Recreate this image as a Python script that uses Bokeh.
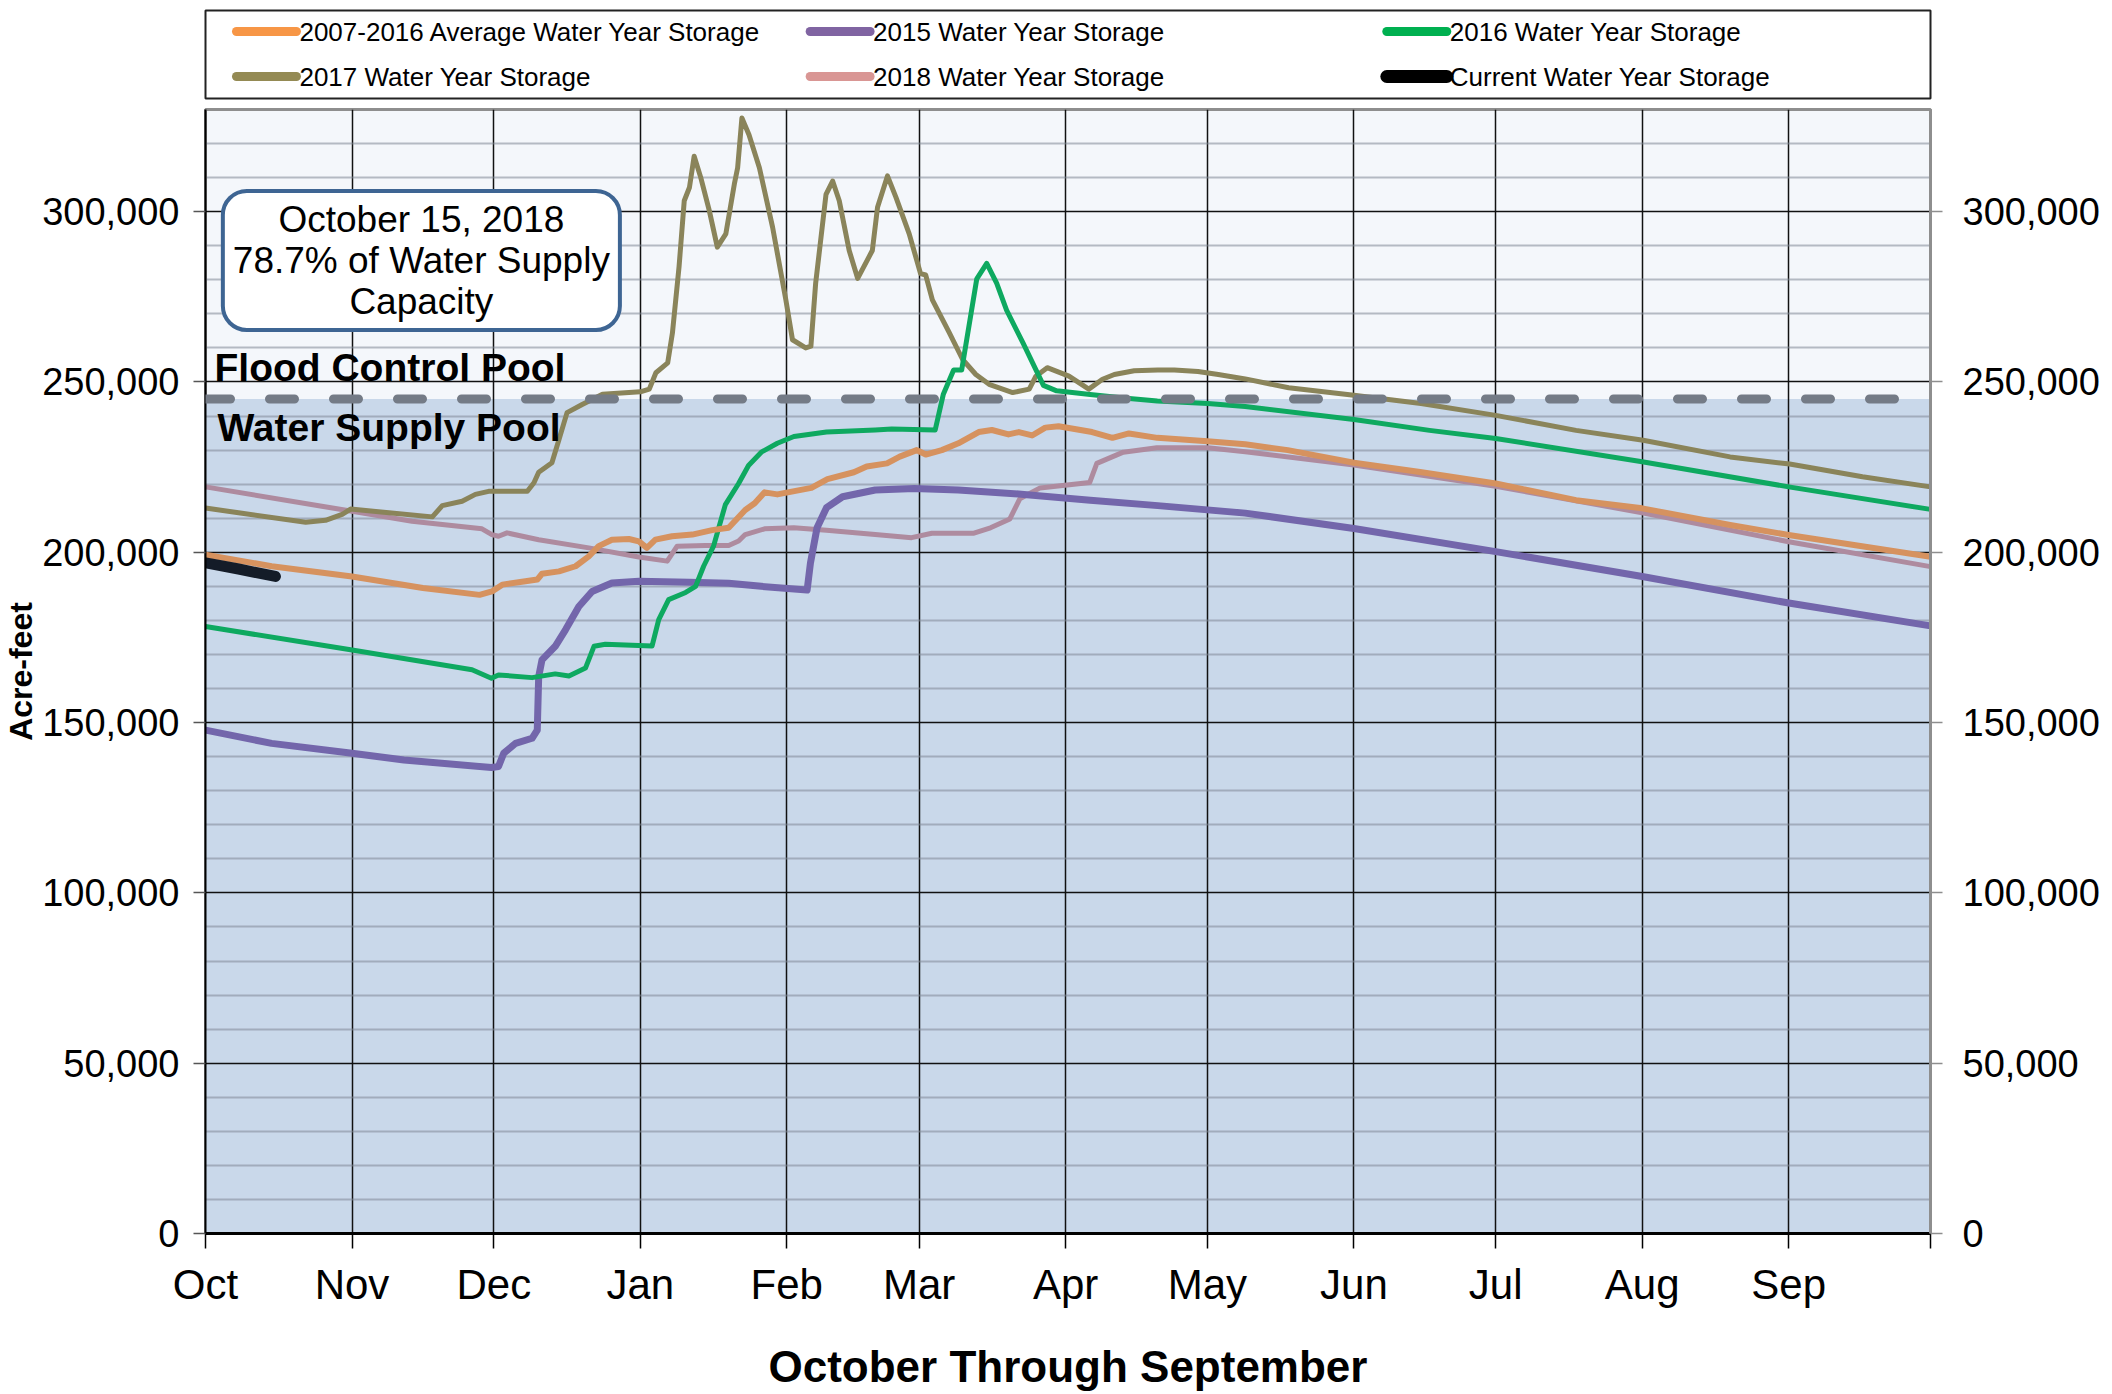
from bokeh.plotting import figure
from bokeh.models import (Range1d, FixedTicker, NumeralTickFormatter, LinearAxis,
                          BoxAnnotation, Span, Label)
from bokeh.layouts import column
from bokeh.embed import file_html
from bokeh.resources import INLINE
from bokeh.core.properties import value

# ---------------- data ----------------
MONTHS = ["Oct", "Nov", "Dec", "Jan", "Feb", "Mar", "Apr", "May", "Jun", "Jul", "Aug", "Sep"]
MONTH_STARTS = [0, 31, 61, 92, 123, 151, 182, 212, 243, 273, 304, 335, 365]  # day of water year
Y_TICKS = [0, 50000, 100000, 150000, 200000, 250000, 300000]
Y_MAX = 330000
WATER_SUPPLY_TOP = 245000

AVG_DAY = [0, 14, 31, 46, 58, 60.6, 62.8, 67.7, 70.2, 71.2, 74.8, 78.3, 81.1, 83.2, 86, 89.6,
           91.7, 93.4, 95.2, 98.7, 103, 107.2, 110.7, 114.2, 116.2, 118.3, 121, 128.2, 131.6,
           137.2, 139.9, 144.2, 146.9, 150.5, 152.4, 155.8, 159.3, 163.6, 166.4, 169.9, 172.1,
           174.9, 177.7, 180.5, 187.6, 191.9, 195.4, 201.4, 212, 220, 229, 243, 257, 273, 290,
           304, 322.6, 335, 365]
AVG_VAL = [199300, 195900, 192900, 189500, 187500, 188500, 190500, 191500, 192000, 193700,
           194400, 195900, 198800, 201800, 203700, 203900, 203200, 201300, 203700, 204700,
           205200, 206500, 207200, 212400, 214400, 217600, 217000, 218900, 221500, 223500,
           225200, 226100, 228100, 230000, 228700, 230000, 232000, 235300, 235900, 234600,
           235300, 234300, 236600, 237000, 235300, 233600, 234900, 233600, 232600, 231700,
           230000, 226300, 223600, 220200, 215300, 212900, 208000, 205100, 198700]

Y2015_DAY = [0, 14, 31, 42, 60.5, 62, 63.1, 65.6, 69.1, 70.2, 70.5, 71.2, 74, 76.2, 79, 81.8,
             86, 91.7, 102.3, 110.7, 117.6, 127.3, 128, 129.4, 131.4, 134.8, 141.7, 150, 159.3,
             173.2, 187.2, 201.5, 220, 243, 273, 304, 335, 365]
Y2015_VAL = [147800, 143900, 141000, 139000, 136800, 137100, 141000, 143900, 145400, 147800,
             163500, 168400, 172400, 177300, 184100, 188500, 191000, 191500, 191200, 190900,
             190000, 188900, 196800, 207200, 213100, 216300, 218300, 218700, 218300, 217000,
             215300, 213700, 211500, 207000, 200200, 192900, 185100, 178400]

Y2016_DAY = [0, 30.7, 56.4, 60.5, 62, 69.1, 74, 76.9, 80.4, 82.2, 84.6, 94.5, 95.9, 98, 101.6,
             103.7, 105.4, 107.5, 110, 112.8, 114.9, 117.6, 121, 124.5, 131.4, 141.7, 145.2,
             154.4, 156.1, 158.3, 160, 163.2, 165.3, 167.4, 169.5, 173, 177.3, 180.1, 187.2,
             194.3, 201.4, 212.1, 220, 243, 259, 273, 304, 335, 365]
Y2016_VAL = [178200, 171400, 165500, 163000, 164000, 163200, 164300, 163700, 166000, 172400,
             173000, 172500, 180200, 186100, 188200, 190000, 195900, 201800, 214000, 220200,
             225500, 229400, 232000, 234000, 235300, 235900, 236200, 235900, 246300, 253500,
             253500, 280300, 284800, 279000, 271100, 261400, 249000, 247400, 246300, 245300,
             244400, 243700, 242800, 239000, 235800, 233400, 226600, 219200, 212600]

Y2017_DAY = [0, 7, 21.2, 25.4, 28.9, 30.7, 38.8, 48, 50.1, 54.3, 57.1, 59.9, 68.1, 69.5, 70.5,
             73.3, 74.8, 76.5, 79.7, 84, 92, 93.9, 95.3, 97.8, 98.8, 100.2, 101.3, 102.4, 103.4,
             104.8, 106.6, 108.3, 110.1, 111.9, 112.6, 113.5, 115, 117.2, 120, 122.8, 124.2, 127,
             128.1, 129.1, 131.3, 132.7, 134.1, 136.2, 138, 141.1, 142.2, 144.3, 146.1, 148.9,
             151.3, 152.4, 153.8, 157.4, 160.2, 163, 165.8, 170.8, 174.3, 175.7, 178.1, 182.7,
             186.9, 189.8, 192.3, 196.5, 201.5, 205, 210, 214.3, 220, 229.2, 243, 257.2, 273,
             290, 304.2, 322.6, 335.2, 350.6, 365]
Y2017_VAL = [213000, 211600, 208800, 209400, 211100, 212700, 211600, 210400, 213700, 215000,
             217000, 217900, 217900, 220400, 223500, 226300, 233100, 241000, 243400, 246400,
             247100, 247900, 252700, 255600, 264400, 283800, 303200, 307100, 316300, 310000,
             300300, 289600, 293500, 308100, 312900, 327500, 322600, 312900, 295400, 274100,
             262400, 260000, 260500, 278900, 305100, 309000, 303200, 288600, 280400, 288600,
             301300, 310500, 304200, 293500, 281800, 281400, 274100, 264400, 256600, 252200,
             249300, 246900, 247900, 251700, 254200, 251700, 247900, 250800, 252200, 253300,
             253500, 253500, 253100, 252200, 250900, 248300, 246100, 243700, 240200, 235800,
             232900, 228000, 225900, 222200, 219200]

Y2018_DAY = [0, 30.7, 43.7, 58.5, 60.6, 62, 63.8, 70.5, 81.1, 91.7, 97.7, 99.8, 105.8, 110.7,
             112.8, 114.2, 118.3, 124.5, 131.4, 141.7, 149.4, 153.7, 162.6, 166.1, 170.2, 172.3,
             176.6, 187.1, 188.6, 194.2, 201.3, 212.1, 220, 243, 273, 304, 335, 365]
Y2018_VAL = [219200, 212100, 209100, 206900, 205200, 204700, 205700, 203700, 201300, 198600,
             197400, 201800, 202000, 202000, 203300, 205200, 206900, 207200, 206500, 205200,
             204300, 205600, 205600, 207200, 209800, 215700, 218900, 220500, 226100, 229400,
             230700, 230700, 229500, 225600, 219400, 211600, 203100, 195800]

CURRENT_DAY = [0, 7, 14.8]
CURRENT_VAL = [196900, 195100, 192900]

LABELS = ["2007-2016 Average Water Year Storage", "2015 Water Year Storage",
          "2016 Water Year Storage", "2017 Water Year Storage",
          "2018 Water Year Storage", "Current Water Year Storage"]

ANNOTATION = "October 15, 2018\n78.7% of Water Supply\nCapacity"

# ---------------- style ----------------
FONT = "Liberation Sans"
LINE_COLORS = ["#D6925F", "#7366AB", "#0EA960", "#8A845A", "#AE8B9F", "#141C28"]
LEGEND_COLORS = ["#F79646", "#8064A2", "#00B050", "#948A54", "#D99694", "#000000"]
LINE_WIDTHS = [6, 7, 5, 5, 5, 11]
SERIES_X = [AVG_DAY, Y2015_DAY, Y2016_DAY, Y2017_DAY, Y2018_DAY, CURRENT_DAY]
SERIES_Y = [AVG_VAL, Y2015_VAL, Y2016_VAL, Y2017_VAL, Y2018_VAL, CURRENT_VAL]
DRAW_ORDER = [4, 3, 1, 2, 0, 5]

BORDER_L, BORDER_R = 204, 174
FRAME_W = 1726
FIG_W = BORDER_L + FRAME_W + BORDER_R       # 2104
MAIN_H = 1290
BORDER_T, BORDER_B = 6, 160
FRAME_H = MAIN_H - BORDER_T - BORDER_B      # 1124
DAYS = MONTH_STARTS[-1]

def dx(px):   # screen px offset from frame left -> days
    return px * DAYS / FRAME_W

def dy(px):   # screen px offset from frame bottom -> acre-feet
    return px * Y_MAX / FRAME_H

# ---------------- legend figure ----------------
LEG_H = 103
leg = figure(width=FIG_W, height=LEG_H, x_range=Range1d(0, FRAME_W), y_range=Range1d(0, 88),
             x_axis_type=None, y_axis_type=None, output_backend="svg", toolbar_location=None,
             min_border_left=BORDER_L, min_border_right=BORDER_R, min_border_top=10,
             min_border_bottom=5, outline_line_color="#222222", outline_line_width=2,
             background_fill_color="white", border_fill_color="white")
COL_SWATCH = [31, 605, 1182]
ROW_Y = [67, 22]
for i, lab in enumerate(LABELS):
    col, row = i % 3, i // 3
    x0 = COL_SWATCH[col]
    leg.segment(x0=[x0], y0=[ROW_Y[row]], x1=[x0 + 60], y1=[ROW_Y[row]],
                line_color=LEGEND_COLORS[i], line_width=(13 if i == 5 else 9), line_cap="round")
    leg.text(x=[x0 + 63], y=[ROW_Y[row]], text=[lab], text_font=value(FONT),
             text_font_size="26px", text_baseline="middle", text_align="left",
             text_color="black")

# ---------------- main figure ----------------
p = figure(width=FIG_W, height=MAIN_H, x_range=Range1d(0, DAYS), y_range=Range1d(0, Y_MAX),
           output_backend="svg", toolbar_location=None,
           min_border_left=BORDER_L, min_border_right=BORDER_R,
           min_border_top=BORDER_T, min_border_bottom=BORDER_B,
           background_fill_color="#F4F7FB", border_fill_color="white",
           outline_line_color="#8E8E8E", outline_line_width=3)

y_minor = [v for v in range(0, Y_MAX + 1, 10000) if v % 50000]
yticker = FixedTicker(ticks=Y_TICKS, minor_ticks=y_minor)
xticker = FixedTicker(ticks=MONTH_STARTS)

# water supply pool shading
p.add_layout(BoxAnnotation(top=WATER_SUPPLY_TOP, fill_color="#C9D8EA", fill_alpha=1.0,
                           line_color=None, level="image"))

# grids
p.ygrid.ticker = yticker
p.ygrid.grid_line_color = "#111111"
p.ygrid.grid_line_width = 1.5
p.ygrid.minor_grid_line_color = "#7F8896"
p.ygrid.minor_grid_line_alpha = 0.55
p.ygrid.minor_grid_line_width = 2
p.xgrid.ticker = xticker
p.xgrid.grid_line_color = "#111111"
p.xgrid.grid_line_width = 1.5

# left axis
ly = p.yaxis[0]
ly.ticker = yticker
ly.formatter = NumeralTickFormatter(format="0,0")
ly.axis_line_color = "black"
ly.axis_line_width = 2
ly.major_tick_out = 12
ly.major_tick_in = 0
ly.major_tick_line_color = "#555555"
ly.major_tick_line_width = 1.5
ly.minor_tick_line_color = None
ly.major_label_standoff = 14
ly.major_label_text_font = FONT
ly.major_label_text_font_size = "38px"
ly.major_label_text_color = "black"
ly.axis_label = "Acre-feet"
ly.axis_label_text_font = FONT
ly.axis_label_text_font_size = "32px"
ly.axis_label_text_font_style = "bold"
ly.axis_label_text_color = "black"
ly.axis_label_standoff = 0

# right axis
ry = LinearAxis(ticker=yticker, formatter=NumeralTickFormatter(format="0,0"))
ry.axis_line_color = "#8E8E8E"
ry.axis_line_width = 3
ry.major_tick_out = 12
ry.major_tick_in = 0
ry.major_tick_line_color = "#8E8E8E"
ry.major_tick_line_width = 1.5
ry.minor_tick_line_color = None
ry.major_label_standoff = 20
ry.major_label_text_font = FONT
ry.major_label_text_font_size = "38px"
ry.major_label_text_color = "black"
p.add_layout(ry, "right")

# bottom axis
bx = p.xaxis[0]
bx.ticker = xticker
overrides = {d: m for d, m in zip(MONTH_STARTS, MONTHS)}
overrides[MONTH_STARTS[-1]] = ""
bx.major_label_overrides = overrides
bx.axis_line_color = "black"
bx.axis_line_width = 3
bx.major_tick_out = 15
bx.major_tick_in = 0
bx.major_tick_line_color = "black"
bx.major_tick_line_width = 1.5
bx.minor_tick_line_color = None
bx.major_label_standoff = 12
bx.major_label_text_font = FONT
bx.major_label_text_font_size = "42px"
bx.major_label_text_color = "black"
bx.axis_label = "October Through September"
bx.axis_label_text_font = FONT
bx.axis_label_text_font_size = "44px"
bx.axis_label_text_font_style = "bold"
bx.axis_label_text_color = "black"
bx.axis_label_standoff = 31

# series lines
for i in DRAW_ORDER:
    p.line(SERIES_X[i], SERIES_Y[i], line_color=LINE_COLORS[i], line_width=LINE_WIDTHS[i],
           line_join="round", line_cap="round")

# flood control / water supply boundary
p.add_layout(Span(location=WATER_SUPPLY_TOP, dimension="width", line_color="#747B86",
                  line_width=9, line_dash="25 39", line_cap="round"))

# pool labels
p.add_layout(Label(x=dx(9), y=dy(866), text="Flood Control Pool", text_font=FONT,
                   text_font_size="39px", text_font_style="bold", text_color="black",
                   text_baseline="alphabetic", text_align="left"))
p.add_layout(Label(x=dx(12), y=dy(806), text="Water Supply Pool", text_font=FONT,
                   text_font_size="39px", text_font_style="bold", text_color="black",
                   text_baseline="alphabetic", text_align="left"))

# status box
p.add_layout(Label(x=dx(216), y=dy(973), text=ANNOTATION, text_font=FONT,
                   text_font_size="37px", text_color="black", text_align="center",
                   text_baseline="middle", text_line_height=1.0,
                   background_fill_color="white", background_fill_alpha=1.0,
                   border_line_color="#3E6593", border_line_width=4,
                   border_radius=24, padding=(10, 8)))

layout = column(leg, p)
open("out.html", "w").write(file_html(layout, INLINE))
